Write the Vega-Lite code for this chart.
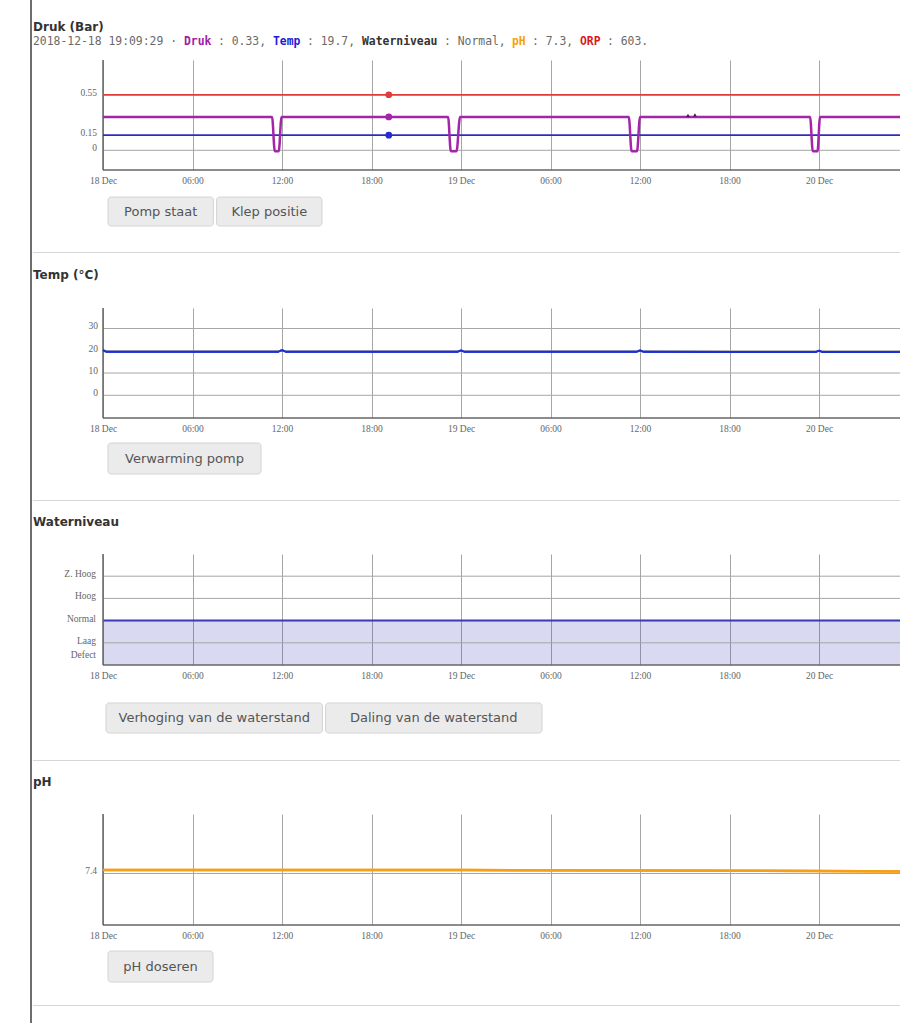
{
  "$schema": "https://vega.github.io/schema/vega-lite/v6.json",
  "background": "white",
  "padding": {"left": 30, "top": 0, "right": 0, "bottom": 0},
  "config": {"view": {"stroke": null}},
  "datasets": {
    "lijn": [{"element": "lijn"}],
    "kop_druk": [{"regel": "titel", "tekst": "Druk (Bar)"}],
    "info_druk": [
      {"deel": 1, "regel": "info", "tekst": "2018-12-18 19:09:29 \u00b7"},
      {"deel": 2, "regel": "info", "tekst": "Druk"},
      {"deel": 3, "regel": "info", "tekst": ": 0.33,"},
      {"deel": 4, "regel": "info", "tekst": "Temp"},
      {"deel": 5, "regel": "info", "tekst": ": 19.7,"},
      {"deel": 6, "regel": "info", "tekst": "Waterniveau"},
      {"deel": 7, "regel": "info", "tekst": ": Normal,"},
      {"deel": 8, "regel": "info", "tekst": "pH"},
      {"deel": 9, "regel": "info", "tekst": ": 7.3,"},
      {"deel": 10, "regel": "info", "tekst": "ORP"},
      {"deel": 11, "regel": "info", "tekst": ": 603."}
    ],
    "kop_temp": [{"regel": "titel", "tekst": "Temp (\u00b0C)"}],
    "kop_water": [{"regel": "titel", "tekst": "Waterniveau"}],
    "kop_ph": [{"regel": "titel", "tekst": "pH"}],
    "druk": [
      {"t": "2018-12-18T00:00:00", "v": 0.55, "serie": "ORP"},
      {"t": "2018-12-20T05:25:44", "v": 0.55, "serie": "ORP"},
      {"t": "2018-12-18T00:00:00", "v": 0.15, "serie": "Temp"},
      {"t": "2018-12-20T05:25:44", "v": 0.15, "serie": "Temp"},
      {"t": "2018-12-18T00:00:00", "v": 0.33, "serie": "Druk"},
      {"t": "2018-12-18T11:20:00", "v": 0.33, "serie": "Druk"},
      {"t": "2018-12-18T11:31:00", "v": -0.01, "serie": "Druk"},
      {"t": "2018-12-18T11:47:00", "v": -0.01, "serie": "Druk"},
      {"t": "2018-12-18T11:58:00", "v": 0.33, "serie": "Druk"},
      {"t": "2018-12-18T23:08:00", "v": 0.33, "serie": "Druk"},
      {"t": "2018-12-18T23:19:00", "v": -0.01, "serie": "Druk"},
      {"t": "2018-12-18T23:42:00", "v": -0.01, "serie": "Druk"},
      {"t": "2018-12-18T23:56:00", "v": 0.33, "serie": "Druk"},
      {"t": "2018-12-19T11:15:00", "v": 0.33, "serie": "Druk"},
      {"t": "2018-12-19T11:26:00", "v": -0.01, "serie": "Druk"},
      {"t": "2018-12-19T11:48:00", "v": -0.01, "serie": "Druk"},
      {"t": "2018-12-19T12:00:00", "v": 0.33, "serie": "Druk"},
      {"t": "2018-12-19T23:24:00", "v": 0.33, "serie": "Druk"},
      {"t": "2018-12-19T23:35:00", "v": -0.01, "serie": "Druk"},
      {"t": "2018-12-19T23:54:00", "v": -0.01, "serie": "Druk"},
      {"t": "2018-12-20T00:04:00", "v": 0.33, "serie": "Druk"},
      {"t": "2018-12-20T05:25:44", "v": 0.33, "serie": "Druk"}
    ],
    "druk_punt": [
      {"t": "2018-12-18T19:09:29", "v": 0.55, "serie": "ORP"},
      {"t": "2018-12-18T19:09:29", "v": 0.33, "serie": "Druk"},
      {"t": "2018-12-18T19:09:29", "v": 0.15, "serie": "Temp"}
    ],
    "druk_markering": [
      {"t": "2018-12-19T15:13:00", "v": 0.345},
      {"t": "2018-12-19T15:41:00", "v": 0.35}
    ],
    "druk_ticks": [
      {"v": 0, "label": "0"},
      {"v": 0.15, "label": "0.15"},
      {"v": 0.55, "label": "0.55"}
    ],
    "temp": [
      {"t": "2018-12-18T00:00:00", "v": 20.3},
      {"t": "2018-12-18T00:15:00", "v": 19.6},
      {"t": "2018-12-18T11:45:00", "v": 19.6},
      {"t": "2018-12-18T12:00:00", "v": 20.2},
      {"t": "2018-12-18T12:15:00", "v": 19.6},
      {"t": "2018-12-18T23:45:00", "v": 19.6},
      {"t": "2018-12-19T00:00:00", "v": 20.1},
      {"t": "2018-12-19T00:15:00", "v": 19.5},
      {"t": "2018-12-19T11:45:00", "v": 19.5},
      {"t": "2018-12-19T12:00:00", "v": 20.1},
      {"t": "2018-12-19T12:15:00", "v": 19.5},
      {"t": "2018-12-19T23:45:00", "v": 19.4},
      {"t": "2018-12-20T00:00:00", "v": 20.0},
      {"t": "2018-12-20T00:15:00", "v": 19.4},
      {"t": "2018-12-20T05:25:44", "v": 19.4}
    ],
    "temp_ticks": [
      {"v": 0, "label": "0"},
      {"v": 10, "label": "10"},
      {"v": 20, "label": "20"},
      {"v": 30, "label": "30"}
    ],
    "water": [
      {"t": "2018-12-18T00:00:00", "v": 2},
      {"t": "2018-12-20T05:25:44", "v": 2}
    ],
    "water_ticks": [
      {"v": 0, "label": "Defect"},
      {"v": 1, "label": "Laag"},
      {"v": 2, "label": "Normal"},
      {"v": 3, "label": "Hoog"},
      {"v": 4, "label": "Z. Hoog"}
    ],
    "ph": [
      {"t": "2018-12-18T00:00:00", "v": 7.407},
      {"t": "2018-12-19T00:00:00", "v": 7.407},
      {"t": "2018-12-19T12:00:00", "v": 7.406},
      {"t": "2018-12-20T00:00:00", "v": 7.405},
      {"t": "2018-12-20T05:25:44", "v": 7.404}
    ],
    "ph_ticks": [{"v": 7.4, "label": "7.4"}],
    "knoppen_druk": [
      {"knop": "Pomp staat", "rij": "knoppen"},
      {"knop": "Klep positie", "rij": "knoppen"}
    ],
    "knoppen_temp": [{"knop": "Verwarming pomp", "rij": "knoppen"}],
    "knoppen_water": [
      {"knop": "Verhoging van de waterstand", "rij": "knoppen"},
      {"knop": "Daling van de waterstand", "rij": "knoppen"}
    ],
    "knoppen_ph": [{"knop": "pH doseren", "rij": "knoppen"}]
  },
  "spacing": 1,
  "hconcat": [
    {
      "width": 2, "height": 1023,
      "data": {"name": "lijn"},
      "mark": {"type": "rect", "color": "#6e6e6e"},
      "encoding": {}
    },
    {
      "spacing": 0,
      "vconcat": [
        {
          "width": 867, "height": 34,
          "data": {"name": "kop_druk"},
          "mark": {"type": "text", "align": "left", "font": "DejaVu Sans", "fontWeight": "bold", "fontSize": 12, "color": "#333333"},
          "encoding": {
            "x": {"datum": 0, "type": "quantitative", "scale": {"domain": [0, 1]}, "axis": null},
            "y": {"field": "regel", "type": "nominal", "scale": {"type": "point", "padding": 0, "align": 0.78}, "axis": null},
            "text": {"field": "tekst"}
          }
        },
        {
          "spacing": 6,
          "hconcat": [
            {"width": 1, "height": 25, "data": {"name": "info_druk"}, "transform": [{"filter": "datum.deel == 1"}],
             "mark": {"type": "text", "align": "left", "font": "DejaVu Sans Mono", "fontSize": 11.4, "color": "#6a6a6a"},
             "encoding": {"x": {"datum": 0, "type": "quantitative", "scale": {"domain": [0, 1]}, "axis": null}, "y": {"field": "regel", "type": "nominal", "scale": {"type": "point", "padding": 0, "align": 0.32}, "axis": null}, "text": {"field": "tekst"}}},
            {"width": 1, "height": 25, "data": {"name": "info_druk"}, "transform": [{"filter": "datum.deel == 2"}],
             "mark": {"type": "text", "align": "left", "font": "DejaVu Sans Mono", "fontWeight": "bold", "fontSize": 11.4, "color": "#a020a8"},
             "encoding": {"x": {"datum": 0, "type": "quantitative", "scale": {"domain": [0, 1]}, "axis": null}, "y": {"field": "regel", "type": "nominal", "scale": {"type": "point", "padding": 0, "align": 0.32}, "axis": null}, "text": {"field": "tekst"}}},
            {"width": 1, "height": 25, "data": {"name": "info_druk"}, "transform": [{"filter": "datum.deel == 3"}],
             "mark": {"type": "text", "align": "left", "font": "DejaVu Sans Mono", "fontSize": 11.4, "color": "#6a6a6a"},
             "encoding": {"x": {"datum": 0, "type": "quantitative", "scale": {"domain": [0, 1]}, "axis": null}, "y": {"field": "regel", "type": "nominal", "scale": {"type": "point", "padding": 0, "align": 0.32}, "axis": null}, "text": {"field": "tekst"}}},
            {"width": 1, "height": 25, "data": {"name": "info_druk"}, "transform": [{"filter": "datum.deel == 4"}],
             "mark": {"type": "text", "align": "left", "font": "DejaVu Sans Mono", "fontWeight": "bold", "fontSize": 11.4, "color": "#1c1cd6"},
             "encoding": {"x": {"datum": 0, "type": "quantitative", "scale": {"domain": [0, 1]}, "axis": null}, "y": {"field": "regel", "type": "nominal", "scale": {"type": "point", "padding": 0, "align": 0.32}, "axis": null}, "text": {"field": "tekst"}}},
            {"width": 1, "height": 25, "data": {"name": "info_druk"}, "transform": [{"filter": "datum.deel == 5"}],
             "mark": {"type": "text", "align": "left", "font": "DejaVu Sans Mono", "fontSize": 11.4, "color": "#6a6a6a"},
             "encoding": {"x": {"datum": 0, "type": "quantitative", "scale": {"domain": [0, 1]}, "axis": null}, "y": {"field": "regel", "type": "nominal", "scale": {"type": "point", "padding": 0, "align": 0.32}, "axis": null}, "text": {"field": "tekst"}}},
            {"width": 1, "height": 25, "data": {"name": "info_druk"}, "transform": [{"filter": "datum.deel == 6"}],
             "mark": {"type": "text", "align": "left", "font": "DejaVu Sans Mono", "fontWeight": "bold", "fontSize": 11.4, "color": "#333333"},
             "encoding": {"x": {"datum": 0, "type": "quantitative", "scale": {"domain": [0, 1]}, "axis": null}, "y": {"field": "regel", "type": "nominal", "scale": {"type": "point", "padding": 0, "align": 0.32}, "axis": null}, "text": {"field": "tekst"}}},
            {"width": 1, "height": 25, "data": {"name": "info_druk"}, "transform": [{"filter": "datum.deel == 7"}],
             "mark": {"type": "text", "align": "left", "font": "DejaVu Sans Mono", "fontSize": 11.4, "color": "#6a6a6a"},
             "encoding": {"x": {"datum": 0, "type": "quantitative", "scale": {"domain": [0, 1]}, "axis": null}, "y": {"field": "regel", "type": "nominal", "scale": {"type": "point", "padding": 0, "align": 0.32}, "axis": null}, "text": {"field": "tekst"}}},
            {"width": 1, "height": 25, "data": {"name": "info_druk"}, "transform": [{"filter": "datum.deel == 8"}],
             "mark": {"type": "text", "align": "left", "font": "DejaVu Sans Mono", "fontWeight": "bold", "fontSize": 11.4, "color": "#f5a300"},
             "encoding": {"x": {"datum": 0, "type": "quantitative", "scale": {"domain": [0, 1]}, "axis": null}, "y": {"field": "regel", "type": "nominal", "scale": {"type": "point", "padding": 0, "align": 0.32}, "axis": null}, "text": {"field": "tekst"}}},
            {"width": 1, "height": 25, "data": {"name": "info_druk"}, "transform": [{"filter": "datum.deel == 9"}],
             "mark": {"type": "text", "align": "left", "font": "DejaVu Sans Mono", "fontSize": 11.4, "color": "#6a6a6a"},
             "encoding": {"x": {"datum": 0, "type": "quantitative", "scale": {"domain": [0, 1]}, "axis": null}, "y": {"field": "regel", "type": "nominal", "scale": {"type": "point", "padding": 0, "align": 0.32}, "axis": null}, "text": {"field": "tekst"}}},
            {"width": 1, "height": 25, "data": {"name": "info_druk"}, "transform": [{"filter": "datum.deel == 10"}],
             "mark": {"type": "text", "align": "left", "font": "DejaVu Sans Mono", "fontWeight": "bold", "fontSize": 11.4, "color": "#e01818"},
             "encoding": {"x": {"datum": 0, "type": "quantitative", "scale": {"domain": [0, 1]}, "axis": null}, "y": {"field": "regel", "type": "nominal", "scale": {"type": "point", "padding": 0, "align": 0.32}, "axis": null}, "text": {"field": "tekst"}}},
            {"width": 1, "height": 25, "data": {"name": "info_druk"}, "transform": [{"filter": "datum.deel == 11"}],
             "mark": {"type": "text", "align": "left", "font": "DejaVu Sans Mono", "fontSize": 11.4, "color": "#6a6a6a"},
             "encoding": {"x": {"datum": 0, "type": "quantitative", "scale": {"domain": [0, 1]}, "axis": null}, "y": {"field": "regel", "type": "nominal", "scale": {"type": "point", "padding": 0, "align": 0.32}, "axis": null}, "text": {"field": "tekst"}}}
          ]
        },
        {
          "width": 867, "height": 110,
          "layer": [
            {"data": {"name": "druk"}, "transform": [{"filter": "datum.serie != 'Druk'"}], "mark": {"type": "line", "strokeWidth": 1.5},
             "encoding": {
               "x": {"field": "t", "type": "temporal",
                     "scale": {"domain": [{"year": 2018, "month": 12, "date": 17, "hours": 19, "minutes": 18, "seconds": 25}, {"year": 2018, "month": 12, "date": 20, "hours": 5, "minutes": 25, "seconds": 44}], "nice": false},
                     "axis": {"values": [{"year": 2018, "month": 12, "date": 18, "hours": 0}, {"year": 2018, "month": 12, "date": 18, "hours": 6}, {"year": 2018, "month": 12, "date": 18, "hours": 12}, {"year": 2018, "month": 12, "date": 18, "hours": 18}, {"year": 2018, "month": 12, "date": 19, "hours": 0}, {"year": 2018, "month": 12, "date": 19, "hours": 6}, {"year": 2018, "month": 12, "date": 19, "hours": 12}, {"year": 2018, "month": 12, "date": 19, "hours": 18}, {"year": 2018, "month": 12, "date": 20, "hours": 0}],
                              "grid": true, "gridColor": "#a6a6a6", "gridWidth": 1, "ticks": false, "domain": false, "title": null,
                              "labelFont": "Liberation Serif", "labelFontSize": 9.5, "labelColor": "#666666", "labelPadding": 5, "labelOverlap": false, "labelFlush": false,
                              "labelExpr": "hours(datum.value) == 0 ? timeFormat(datum.value, '%d %b') : timeFormat(datum.value, '%H:%M')"}},
               "y": {"field": "v", "type": "quantitative", "scale": {"domain": [-0.195, 0.894], "nice": false, "zero": false}, "axis": null},
               "color": {"field": "serie", "type": "nominal", "scale": {"domain": ["ORP", "Druk", "Temp"], "range": ["#e23b3b", "#a326a8", "#2a2ad0"]}, "legend": null}
             }},
            {"data": {"name": "druk_ticks"}, "mark": {"type": "rule", "color": "#a6a6a6", "strokeWidth": 1},
             "encoding": {"x": {"datum": {"year": 2018, "month": 12, "date": 18, "hours": 0}, "type": "temporal"}, "x2": {"datum": {"year": 2018, "month": 12, "date": 20, "hours": 5, "minutes": 25, "seconds": 44}}, "y": {"field": "v", "type": "quantitative", "axis": null}}},
            {"data": {"name": "lijn"}, "mark": {"type": "rule", "color": "#666666", "strokeWidth": 1.5},
             "encoding": {"x": {"datum": {"year": 2018, "month": 12, "date": 18, "hours": 0}, "type": "temporal"}}},
            {"data": {"name": "lijn"}, "mark": {"type": "rule", "color": "#666666", "strokeWidth": 1.5},
             "encoding": {"x": {"datum": {"year": 2018, "month": 12, "date": 18, "hours": 0}, "type": "temporal"}, "x2": {"datum": {"year": 2018, "month": 12, "date": 20, "hours": 5, "minutes": 25, "seconds": 44}}, "y": {"datum": -0.195, "type": "quantitative", "axis": null}}},
            {"data": {"name": "druk"}, "transform": [{"filter": "datum.serie != 'Druk'"}], "mark": {"type": "line", "strokeWidth": 1.5},
             "encoding": {
               "x": {"field": "t", "type": "temporal"},
               "y": {"field": "v", "type": "quantitative", "axis": null},
               "color": {"field": "serie", "type": "nominal", "legend": null}
             }},
            {"data": {"name": "druk"}, "transform": [{"filter": "datum.serie == 'Druk'"}], "mark": {"type": "line", "strokeWidth": 2.5, "interpolate": "monotone"},
             "encoding": {
               "x": {"field": "t", "type": "temporal"},
               "y": {"field": "v", "type": "quantitative", "axis": null},
               "color": {"field": "serie", "type": "nominal", "legend": null}
             }},
            {"data": {"name": "druk_punt"}, "mark": {"type": "point", "filled": true, "size": 45, "opacity": 1},
             "encoding": {
               "x": {"field": "t", "type": "temporal"},
               "y": {"field": "v", "type": "quantitative", "axis": null},
               "color": {"field": "serie", "type": "nominal", "legend": null}
             }},
            {"data": {"name": "druk_markering"}, "mark": {"type": "point", "filled": true, "shape": "triangle-up", "size": 14, "opacity": 1, "color": "#4a1650"},
             "encoding": {
               "x": {"field": "t", "type": "temporal"},
               "y": {"field": "v", "type": "quantitative", "axis": null}
             }},
            {"data": {"name": "druk_ticks"}, "mark": {"type": "text", "align": "right", "baseline": "middle", "dx": -6, "dy": -2, "font": "Liberation Serif", "fontSize": 9.5, "color": "#666666"},
             "encoding": {"x": {"datum": {"year": 2018, "month": 12, "date": 18, "hours": 0}, "type": "temporal"}, "y": {"field": "v", "type": "quantitative", "axis": null}, "text": {"field": "label"}}}
          ]
        },
        {
          "width": 364, "height": 67,
          "data": {"name": "knoppen_druk"},
          "encoding": {
            "x": {"field": "knop", "type": "nominal", "sort": null, "scale": {"type": "band", "paddingInner": 0.03, "paddingOuter": 0.691}, "axis": null},
            "y": {"field": "rij", "type": "nominal", "scale": {"type": "band", "paddingInner": 0, "paddingOuter": 0.655, "align": 0.316}, "axis": null}
          },
          "layer": [
            {"mark": {"type": "rect", "cornerRadius": 3, "fill": "#ebebeb", "stroke": "#d4d4d4", "strokeWidth": 1}},
            {"mark": {"type": "text", "font": "DejaVu Sans", "fontSize": 13, "color": "#555555"}, "encoding": {"text": {"field": "knop"}}}
          ]
        },
        {"width": 867, "height": 1, "data": {"name": "lijn"}, "mark": {"type": "rect", "color": "#d6d6d6"}, "encoding": {}},
        {
          "width": 867, "height": 54,
          "data": {"name": "kop_temp"},
          "mark": {"type": "text", "align": "left", "font": "DejaVu Sans", "fontWeight": "bold", "fontSize": 12, "color": "#333333"},
          "encoding": {
            "x": {"datum": 0, "type": "quantitative", "scale": {"domain": [0, 1]}, "axis": null},
            "y": {"field": "regel", "type": "nominal", "scale": {"type": "point", "padding": 0, "align": 0.41}, "axis": null},
            "text": {"field": "tekst"}
          }
        },
        {
          "width": 867, "height": 110,
          "layer": [
            {"data": {"name": "temp"}, "mark": {"type": "line", "strokeWidth": 2, "color": "#1c2fd6", "interpolate": "monotone"},
             "encoding": {
               "x": {"field": "t", "type": "temporal",
                     "scale": {"domain": [{"year": 2018, "month": 12, "date": 17, "hours": 19, "minutes": 18, "seconds": 25}, {"year": 2018, "month": 12, "date": 20, "hours": 5, "minutes": 25, "seconds": 44}], "nice": false},
                     "axis": {"values": [{"year": 2018, "month": 12, "date": 18, "hours": 0}, {"year": 2018, "month": 12, "date": 18, "hours": 6}, {"year": 2018, "month": 12, "date": 18, "hours": 12}, {"year": 2018, "month": 12, "date": 18, "hours": 18}, {"year": 2018, "month": 12, "date": 19, "hours": 0}, {"year": 2018, "month": 12, "date": 19, "hours": 6}, {"year": 2018, "month": 12, "date": 19, "hours": 12}, {"year": 2018, "month": 12, "date": 19, "hours": 18}, {"year": 2018, "month": 12, "date": 20, "hours": 0}],
                              "grid": true, "gridColor": "#a6a6a6", "gridWidth": 1, "ticks": false, "domain": false, "title": null,
                              "labelFont": "Liberation Serif", "labelFontSize": 9.5, "labelColor": "#666666", "labelPadding": 5, "labelOverlap": false, "labelFlush": false,
                              "labelExpr": "hours(datum.value) == 0 ? timeFormat(datum.value, '%d %b') : timeFormat(datum.value, '%H:%M')"}},
               "y": {"field": "v", "type": "quantitative", "scale": {"domain": [-10.2, 39.2], "nice": false, "zero": false}, "axis": null}
             }},
            {"data": {"name": "temp_ticks"}, "mark": {"type": "rule", "color": "#a6a6a6", "strokeWidth": 1},
             "encoding": {"x": {"datum": {"year": 2018, "month": 12, "date": 18, "hours": 0}, "type": "temporal"}, "x2": {"datum": {"year": 2018, "month": 12, "date": 20, "hours": 5, "minutes": 25, "seconds": 44}}, "y": {"field": "v", "type": "quantitative", "axis": null}}},
            {"data": {"name": "lijn"}, "mark": {"type": "rule", "color": "#666666", "strokeWidth": 1.5},
             "encoding": {"x": {"datum": {"year": 2018, "month": 12, "date": 18, "hours": 0}, "type": "temporal"}}},
            {"data": {"name": "lijn"}, "mark": {"type": "rule", "color": "#666666", "strokeWidth": 1.5},
             "encoding": {"x": {"datum": {"year": 2018, "month": 12, "date": 18, "hours": 0}, "type": "temporal"}, "x2": {"datum": {"year": 2018, "month": 12, "date": 20, "hours": 5, "minutes": 25, "seconds": 44}}, "y": {"datum": -10.2, "type": "quantitative", "axis": null}}},
            {"data": {"name": "temp"}, "mark": {"type": "line", "strokeWidth": 2, "color": "#1c2fd6", "interpolate": "monotone"},
             "encoding": {"x": {"field": "t", "type": "temporal"}, "y": {"field": "v", "type": "quantitative", "axis": null}}},
            {"data": {"name": "temp_ticks"}, "mark": {"type": "text", "align": "right", "baseline": "middle", "dx": -5, "dy": -2, "font": "Liberation Serif", "fontSize": 9.5, "color": "#666666"},
             "encoding": {"x": {"datum": {"year": 2018, "month": 12, "date": 18, "hours": 0}, "type": "temporal"}, "y": {"field": "v", "type": "quantitative", "axis": null}, "text": {"field": "label"}}}
          ]
        },
        {
          "width": 303, "height": 67,
          "data": {"name": "knoppen_temp"},
          "encoding": {
            "x": {"field": "knop", "type": "nominal", "sort": null, "scale": {"type": "band", "paddingInner": 0, "paddingOuter": 0.49}, "axis": null},
            "y": {"field": "rij", "type": "nominal", "scale": {"type": "band", "paddingInner": 0, "paddingOuter": 0.581, "align": 0.278}, "axis": null}
          },
          "layer": [
            {"mark": {"type": "rect", "cornerRadius": 3, "fill": "#ebebeb", "stroke": "#d4d4d4", "strokeWidth": 1}},
            {"mark": {"type": "text", "font": "DejaVu Sans", "fontSize": 13, "color": "#555555"}, "encoding": {"text": {"field": "knop"}}}
          ]
        },
        {"width": 867, "height": 1, "data": {"name": "lijn"}, "mark": {"type": "rect", "color": "#d6d6d6"}, "encoding": {}},
        {
          "width": 867, "height": 52,
          "data": {"name": "kop_water"},
          "mark": {"type": "text", "align": "left", "font": "DejaVu Sans", "fontWeight": "bold", "fontSize": 12, "color": "#333333"},
          "encoding": {
            "x": {"datum": 0, "type": "quantitative", "scale": {"domain": [0, 1]}, "axis": null},
            "y": {"field": "regel", "type": "nominal", "scale": {"type": "point", "padding": 0, "align": 0.41}, "axis": null},
            "text": {"field": "tekst"}
          }
        },
        {
          "width": 867, "height": 111,
          "layer": [
            {"data": {"name": "water"}, "mark": {"type": "area", "color": "#4040c0", "opacity": 0.2},
             "encoding": {
               "x": {"field": "t", "type": "temporal",
                     "scale": {"domain": [{"year": 2018, "month": 12, "date": 17, "hours": 19, "minutes": 18, "seconds": 25}, {"year": 2018, "month": 12, "date": 20, "hours": 5, "minutes": 25, "seconds": 44}], "nice": false},
                     "axis": {"values": [{"year": 2018, "month": 12, "date": 18, "hours": 0}, {"year": 2018, "month": 12, "date": 18, "hours": 6}, {"year": 2018, "month": 12, "date": 18, "hours": 12}, {"year": 2018, "month": 12, "date": 18, "hours": 18}, {"year": 2018, "month": 12, "date": 19, "hours": 0}, {"year": 2018, "month": 12, "date": 19, "hours": 6}, {"year": 2018, "month": 12, "date": 19, "hours": 12}, {"year": 2018, "month": 12, "date": 19, "hours": 18}, {"year": 2018, "month": 12, "date": 20, "hours": 0}],
                              "grid": true, "gridColor": "#a6a6a6", "gridWidth": 1, "ticks": false, "domain": false, "title": null,
                              "labelFont": "Liberation Serif", "labelFontSize": 9.5, "labelColor": "#666666", "labelPadding": 5, "labelOverlap": false, "labelFlush": false,
                              "labelExpr": "hours(datum.value) == 0 ? timeFormat(datum.value, '%d %b') : timeFormat(datum.value, '%H:%M')"}},
               "y": {"field": "v", "type": "quantitative", "scale": {"domain": [0, 5.0], "nice": false, "zero": false}, "axis": null}
             }},
            {"data": {"name": "water_ticks"}, "transform": [{"filter": "datum.v > 0"}], "mark": {"type": "rule", "color": "#a6a6a6", "strokeWidth": 1},
             "encoding": {"x": {"datum": {"year": 2018, "month": 12, "date": 18, "hours": 0}, "type": "temporal"}, "x2": {"datum": {"year": 2018, "month": 12, "date": 20, "hours": 5, "minutes": 25, "seconds": 44}}, "y": {"field": "v", "type": "quantitative", "axis": null}}},
            {"data": {"name": "water"}, "mark": {"type": "line", "strokeWidth": 2, "color": "#3a3ab5"},
             "encoding": {"x": {"field": "t", "type": "temporal"}, "y": {"field": "v", "type": "quantitative", "axis": null}}},
            {"data": {"name": "lijn"}, "mark": {"type": "rule", "color": "#666666", "strokeWidth": 1.5},
             "encoding": {"x": {"datum": {"year": 2018, "month": 12, "date": 18, "hours": 0}, "type": "temporal"}}},
            {"data": {"name": "lijn"}, "mark": {"type": "rule", "color": "#666666", "strokeWidth": 1.5},
             "encoding": {"x": {"datum": {"year": 2018, "month": 12, "date": 18, "hours": 0}, "type": "temporal"}, "x2": {"datum": {"year": 2018, "month": 12, "date": 20, "hours": 5, "minutes": 25, "seconds": 44}}, "y": {"datum": 0, "type": "quantitative", "axis": null}}},
            {"data": {"name": "water_ticks"}, "transform": [{"filter": "datum.v > 0"}], "mark": {"type": "text", "align": "right", "baseline": "middle", "dx": -7, "dy": -2, "font": "Liberation Serif", "fontSize": 9.5, "color": "#666666"},
             "encoding": {"x": {"datum": {"year": 2018, "month": 12, "date": 18, "hours": 0}, "type": "temporal"}, "y": {"field": "v", "type": "quantitative", "axis": null}, "text": {"field": "label"}}},
            {"data": {"name": "water_ticks"}, "transform": [{"filter": "datum.v == 0"}], "mark": {"type": "text", "align": "right", "baseline": "middle", "dx": -7, "dy": -10, "font": "Liberation Serif", "fontSize": 9.5, "color": "#666666"},
             "encoding": {"x": {"datum": {"year": 2018, "month": 12, "date": 18, "hours": 0}, "type": "temporal"}, "y": {"field": "v", "type": "quantitative", "axis": null}, "text": {"field": "label"}}}
          ]
        },
        {
          "width": 582, "height": 80,
          "data": {"name": "knoppen_water"},
          "encoding": {
            "x": {"field": "knop", "type": "nominal", "sort": null, "scale": {"type": "band", "paddingInner": 0.014, "paddingOuter": 0.3325}, "axis": null},
            "y": {"field": "rij", "type": "nominal", "scale": {"type": "band", "paddingInner": 0, "paddingOuter": 0.833, "align": 0.46}, "axis": null}
          },
          "layer": [
            {"mark": {"type": "rect", "cornerRadius": 3, "fill": "#ebebeb", "stroke": "#d4d4d4", "strokeWidth": 1}},
            {"mark": {"type": "text", "font": "DejaVu Sans", "fontSize": 13, "color": "#555555"}, "encoding": {"text": {"field": "knop"}}}
          ]
        },
        {"width": 867, "height": 1, "data": {"name": "lijn"}, "mark": {"type": "rect", "color": "#d6d6d6"}, "encoding": {}},
        {
          "width": 867, "height": 52,
          "data": {"name": "kop_ph"},
          "mark": {"type": "text", "align": "left", "font": "DejaVu Sans", "fontWeight": "bold", "fontSize": 12, "color": "#333333"},
          "encoding": {
            "x": {"datum": 0, "type": "quantitative", "scale": {"domain": [0, 1]}, "axis": null},
            "y": {"field": "regel", "type": "nominal", "scale": {"type": "point", "padding": 0, "align": 0.41}, "axis": null},
            "text": {"field": "tekst"}
          }
        },
        {
          "width": 867, "height": 111,
          "layer": [
            {"data": {"name": "ph"}, "mark": {"type": "line", "strokeWidth": 2.5, "color": "#f6a019"},
             "encoding": {
               "x": {"field": "t", "type": "temporal",
                     "scale": {"domain": [{"year": 2018, "month": 12, "date": 17, "hours": 19, "minutes": 18, "seconds": 25}, {"year": 2018, "month": 12, "date": 20, "hours": 5, "minutes": 25, "seconds": 44}], "nice": false},
                     "axis": {"values": [{"year": 2018, "month": 12, "date": 18, "hours": 0}, {"year": 2018, "month": 12, "date": 18, "hours": 6}, {"year": 2018, "month": 12, "date": 18, "hours": 12}, {"year": 2018, "month": 12, "date": 18, "hours": 18}, {"year": 2018, "month": 12, "date": 19, "hours": 0}, {"year": 2018, "month": 12, "date": 19, "hours": 6}, {"year": 2018, "month": 12, "date": 19, "hours": 12}, {"year": 2018, "month": 12, "date": 19, "hours": 18}, {"year": 2018, "month": 12, "date": 20, "hours": 0}],
                              "grid": true, "gridColor": "#a6a6a6", "gridWidth": 1, "ticks": false, "domain": false, "title": null,
                              "labelFont": "Liberation Serif", "labelFontSize": 9.5, "labelColor": "#666666", "labelPadding": 5, "labelOverlap": false, "labelFlush": false,
                              "labelExpr": "hours(datum.value) == 0 ? timeFormat(datum.value, '%d %b') : timeFormat(datum.value, '%H:%M')"}},
               "y": {"field": "v", "type": "quantitative", "scale": {"domain": [7.297, 7.519], "nice": false, "zero": false}, "axis": null}
             }},
            {"data": {"name": "ph_ticks"}, "mark": {"type": "rule", "color": "#a6a6a6", "strokeWidth": 1},
             "encoding": {"x": {"datum": {"year": 2018, "month": 12, "date": 18, "hours": 0}, "type": "temporal"}, "x2": {"datum": {"year": 2018, "month": 12, "date": 20, "hours": 5, "minutes": 25, "seconds": 44}}, "y": {"field": "v", "type": "quantitative", "axis": null}}},
            {"data": {"name": "lijn"}, "mark": {"type": "rule", "color": "#666666", "strokeWidth": 1.5},
             "encoding": {"x": {"datum": {"year": 2018, "month": 12, "date": 18, "hours": 0}, "type": "temporal"}}},
            {"data": {"name": "lijn"}, "mark": {"type": "rule", "color": "#666666", "strokeWidth": 1.5},
             "encoding": {"x": {"datum": {"year": 2018, "month": 12, "date": 18, "hours": 0}, "type": "temporal"}, "x2": {"datum": {"year": 2018, "month": 12, "date": 20, "hours": 5, "minutes": 25, "seconds": 44}}, "y": {"datum": 7.297, "type": "quantitative", "axis": null}}},
            {"data": {"name": "ph"}, "mark": {"type": "line", "strokeWidth": 2.5, "color": "#f6a019"},
             "encoding": {"x": {"field": "t", "type": "temporal"}, "y": {"field": "v", "type": "quantitative", "axis": null}}},
            {"data": {"name": "ph_ticks"}, "mark": {"type": "text", "align": "right", "baseline": "middle", "dx": -6, "dy": -3, "font": "Liberation Serif", "fontSize": 9.5, "color": "#666666"},
             "encoding": {"x": {"datum": {"year": 2018, "month": 12, "date": 18, "hours": 0}, "type": "temporal"}, "y": {"field": "v", "type": "quantitative", "axis": null}, "text": {"field": "label"}}}
          ]
        },
        {
          "width": 255, "height": 65,
          "data": {"name": "knoppen_ph"},
          "encoding": {
            "x": {"field": "knop", "type": "nominal", "sort": null, "scale": {"type": "band", "paddingInner": 0, "paddingOuter": 0.714}, "axis": null},
            "y": {"field": "rij", "type": "nominal", "scale": {"type": "band", "paddingInner": 0, "paddingOuter": 0.548, "align": 0.324}, "axis": null}
          },
          "layer": [
            {"mark": {"type": "rect", "cornerRadius": 3, "fill": "#ebebeb", "stroke": "#d4d4d4", "strokeWidth": 1}},
            {"mark": {"type": "text", "font": "DejaVu Sans", "fontSize": 13, "color": "#555555"}, "encoding": {"text": {"field": "knop"}}}
          ]
        },
        {"width": 867, "height": 1, "data": {"name": "lijn"}, "mark": {"type": "rect", "color": "#d6d6d6"}, "encoding": {}}
      ]
    }
  ]
}
